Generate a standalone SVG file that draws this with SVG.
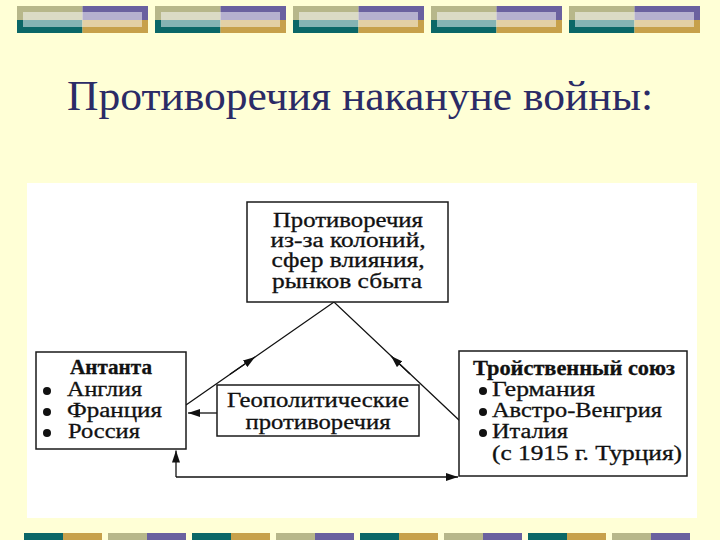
<svg xmlns="http://www.w3.org/2000/svg" xmlns:xlink="http://www.w3.org/1999/xlink" width="720" height="540" viewBox="0 0 720 540">
<style>
.box{fill:#fff;stroke:#1a1a1a;stroke-width:1.5}
.ln{fill:none;stroke:#111;stroke-width:1.3}
.t{font-family:"Liberation Serif","Times New Roman",serif;fill:#111;font-size:20px;stroke:#111;stroke-width:0.3}
.b{font-weight:bold}
.c{text-anchor:middle}
.title{font-family:"Liberation Serif","Times New Roman",serif;fill:#2b2b66;font-size:42px}
.dot{fill:#111}
</style>
<defs>
<g id="blk">
<rect x="0" y="6" width="65.5" height="14" fill="#b7b78a"/>
<rect x="65.5" y="6" width="65.5" height="14" fill="#6a619f"/>
<rect x="0" y="20" width="65.5" height="13" fill="#0b6767"/>
<rect x="65.5" y="20" width="65.5" height="13" fill="#c7a14b"/>
<rect x="6" y="12" width="119" height="15" fill="#fff" fill-opacity="0.5"/>
</g>
<marker id="ah" viewBox="0 0 12 8" refX="12" refY="4" markerWidth="12" markerHeight="8" markerUnits="userSpaceOnUse" orient="auto">
<path d="M0,0 L12,4 L0,8 Z" fill="#111"/>
</marker>
</defs>
<rect x="0" y="0" width="720" height="540" fill="#ffffd6"/>
<g id="top-deco">
<use xlink:href="#blk" x="17"/>
<use xlink:href="#blk" x="155"/>
<use xlink:href="#blk" x="293"/>
<use xlink:href="#blk" x="431"/>
<use xlink:href="#blk" x="569"/>
</g>
<g id="bottom-deco">
<rect x="24" y="533" width="39" height="7" fill="#0b6767"/><rect x="63" y="533" width="39" height="7" fill="#c7a14b"/>
<rect x="108" y="533" width="39" height="7" fill="#b7b78a"/><rect x="147" y="533" width="39" height="7" fill="#6a619f"/>
<rect x="192" y="533" width="39" height="7" fill="#0b6767"/><rect x="231" y="533" width="39" height="7" fill="#c7a14b"/>
<rect x="276" y="533" width="39" height="7" fill="#b7b78a"/><rect x="315" y="533" width="39" height="7" fill="#6a619f"/>
<rect x="360" y="533" width="39" height="7" fill="#0b6767"/><rect x="399" y="533" width="39" height="7" fill="#c7a14b"/>
<rect x="444" y="533" width="39" height="7" fill="#b7b78a"/><rect x="483" y="533" width="39" height="7" fill="#6a619f"/>
<rect x="528" y="533" width="39" height="7" fill="#0b6767"/><rect x="567" y="533" width="39" height="7" fill="#c7a14b"/>
<rect x="612" y="533" width="39" height="7" fill="#b7b78a"/><rect x="651" y="533" width="39" height="7" fill="#6a619f"/>
</g>
<text class="title" x="360" y="110" text-anchor="middle" textLength="586" lengthAdjust="spacingAndGlyphs">Противоречия накануне войны:</text>
<rect x="27" y="183" width="670" height="335" fill="#fff"/>
<g id="connectors">
<path class="ln" d="M186,405 L334,302 L460,421"/>
<path class="ln" d="M230,374.2 L255,357" marker-end="url(#ah)"/>
<path class="ln" d="M410,374 L391,356" marker-end="url(#ah)"/>
<path class="ln" d="M217,413 L188,413" marker-end="url(#ah)"/>
<path class="ln" d="M176,477 L176,450.5" marker-end="url(#ah)"/>
<path class="ln" d="M176,477 L458,477" marker-end="url(#ah)"/>
</g>
<g id="node-top">
<rect class="box" x="247" y="202" width="201" height="100"/>
<text class="t c" x="348" y="227" font-size="21" textLength="150" lengthAdjust="spacingAndGlyphs">Противоречия</text>
<text class="t c" x="348" y="247" font-size="21" textLength="155" lengthAdjust="spacingAndGlyphs">из-за колоний,</text>
<text class="t c" x="348" y="267" font-size="21" textLength="153" lengthAdjust="spacingAndGlyphs">сфер влияния,</text>
<text class="t c" x="347" y="288" font-size="21" textLength="150" lengthAdjust="spacingAndGlyphs">рынков сбыта</text>
</g>
<g id="node-entente">
<rect class="box" x="36" y="352" width="150" height="97"/>
<text class="t b" x="70" y="374" textLength="82" lengthAdjust="spacingAndGlyphs">Антанта</text>
<circle class="dot" cx="47" cy="391" r="4"/>
<circle class="dot" cx="47" cy="412" r="4"/>
<circle class="dot" cx="47" cy="433" r="4"/>
<text class="t" x="67" y="396" textLength="75" lengthAdjust="spacingAndGlyphs">Англия</text>
<text class="t" x="67" y="417" textLength="95" lengthAdjust="spacingAndGlyphs">Франция</text>
<text class="t" x="68" y="438" textLength="72" lengthAdjust="spacingAndGlyphs">Россия</text>
</g>
<g id="node-triple">
<rect class="box" x="459" y="351" width="228" height="125"/>
<text class="t b" x="473" y="375" textLength="202" lengthAdjust="spacingAndGlyphs">Тройственный союз</text>
<circle class="dot" cx="483" cy="391" r="4"/>
<circle class="dot" cx="483" cy="412" r="4"/>
<circle class="dot" cx="483" cy="433" r="4"/>
<text class="t" x="492" y="396" textLength="103" lengthAdjust="spacingAndGlyphs">Германия</text>
<text class="t" x="492" y="417" textLength="170" lengthAdjust="spacingAndGlyphs">Австро-Венгрия</text>
<text class="t" x="492" y="438" textLength="76" lengthAdjust="spacingAndGlyphs">Италия</text>
<text class="t" x="492" y="460" textLength="190" lengthAdjust="spacingAndGlyphs">(с 1915 г. Турция)</text>
</g>
<g id="node-geo">
<rect class="box" x="217" y="385" width="202" height="51"/>
<text class="t c" x="318" y="407" textLength="182" lengthAdjust="spacingAndGlyphs">Геополитические</text>
<text class="t c" x="318" y="429" textLength="145" lengthAdjust="spacingAndGlyphs">противоречия</text>
</g>
</svg>
